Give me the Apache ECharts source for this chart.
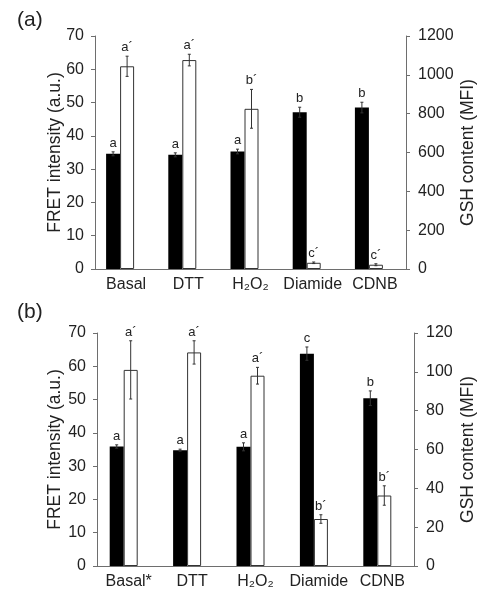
<!DOCTYPE html>
<html><head><meta charset="utf-8">
<script src="https://cdn.jsdelivr.net/npm/echarts@6/dist/echarts.min.js"></script>
<style>html,body{margin:0;padding:0;background:#fff}#c{width:486px;height:599px}</style>
</head><body><div id="c"></div>
<script>
// ---- data ----
var catsA = ['Basal', 'DTT', 'H\u2082O\u2082', 'Diamide', 'CDNB'];
var catsB = ['Basal*', 'DTT', 'H\u2082O\u2082', 'Diamide', 'CDNB'];
var fretA = [34.6, 34.3, 35.3, 47.1, 48.5];
var fretAErr = [0.6, 0.6, 0.7, 1.5, 1.6];
var gshA = [1044, 1076, 825, 32, 22];
var gshAErr = [52, 30, 100, 4, 5];
var lettersFretA = ['a', 'a', 'a', 'b', 'b'];
var lettersGshA = ['a\u00b4', 'a\u00b4', 'b\u00b4', 'c\u00b4', 'c\u00b4'];
var fretB = [35.9, 34.8, 35.8, 63.8, 50.4];
var fretBErr = [0.5, 0.3, 1.2, 2.0, 2.2];
var gshB = [101, 110, 98, 24.2, 36.3];
var gshBErr = [15, 6, 4.3, 2.2, 5];
var lettersFretB = ['a', 'a', 'a', 'c', 'b'];
var lettersGshB = ['a\u00b4', 'a\u00b4', 'a\u00b4', 'b\u00b4', 'b\u00b4'];
var leftTicks = [0, 70, 10];
var rightTicksA = [0, 1200, 200];
var rightTicksB = [0, 120, 20];

// ---- styles ----
var FONT = 'Liberation Sans';
var BW = 14;
var axisCol = '#6e6e6e';
var txtCol = '#222';

function errSeries(name, vals, errs, letters, xi, yi, shift) {
  return {
    type: 'custom', name: name, xAxisIndex: xi, yAxisIndex: yi, clip: false, z: 5,
    data: vals.map(function (v, i) { return [i, v, errs[i]]; }),
    renderItem: function (params, api) {
      var i = api.value(0), v = api.value(1), e = api.value(2);
      var top = api.coord([i, v + e]);
      var bot = api.coord([i, v - e]);
      var x = top[0] + shift;
      var cap = 1.5;
      var ls = { stroke: '#333', lineWidth: 1 };
      return {
        type: 'group', children: [
          { type: 'line', shape: { x1: x, y1: top[1], x2: x, y2: bot[1] }, style: ls },
          { type: 'line', shape: { x1: x - cap, y1: top[1], x2: x + cap, y2: top[1] }, style: ls },
          { type: 'line', shape: { x1: x - cap, y1: bot[1], x2: x + cap, y2: bot[1] }, style: ls },
          { type: 'text', x: x, y: top[1] - 2, style: { text: letters[params.dataIndex], fill: txtCol, font: '13px ' + FONT, textAlign: 'center', textVerticalAlign: 'bottom' } }
        ]
      };
    }
  };
}

function yAxisDef(gi, pos, ticks, name, gap, margin) {
  return {
    type: 'value', gridIndex: gi, position: pos, min: ticks[0], max: ticks[1], interval: ticks[2],
    name: name, nameLocation: 'middle', nameGap: gap, nameRotate: 90, nameMoveOverlap: false,
    nameTextStyle: { fontFamily: FONT, fontSize: 17.5, color: txtCol },
    axisLine: { show: true, lineStyle: { color: axisCol, width: 1 } },
    axisTick: { show: true, inside: false, length: 4, lineStyle: { color: axisCol } },
    axisLabel: { fontFamily: FONT, fontSize: 16, color: txtCol, margin: margin, formatter: function (v) { return String(v); } },
    splitLine: { show: false }
  };
}
function xAxisDef(gi, cats) {
  return {
    type: 'category', gridIndex: gi, data: cats,
    axisLine: { lineStyle: { color: axisCol, width: 1 } },
    axisTick: { show: false },
    axisLabel: { fontFamily: FONT, fontSize: 16, color: txtCol, margin: 8, interval: 0 }
  };
}

var chart = echarts.init(document.getElementById('c'), null, { renderer: 'canvas' });
chart.setOption({
  animation: false,
  backgroundColor: '#fff',
  title: [
    { text: '(a)', left: 12, top: 5, textStyle: { fontFamily: FONT, fontSize: 21, fontWeight: 'normal', color: txtCol } },
    { text: '(b)', left: 12, top: 297, textStyle: { fontFamily: FONT, fontSize: 21, fontWeight: 'normal', color: txtCol } }
  ],
  grid: [
    { left: 95, right: 80, top: 36, bottom: 330, containLabel: false, outerBoundsMode: 'none' },
    { left: 97, right: 72, top: 333, bottom: 33, containLabel: false, outerBoundsMode: 'none' }
  ],
  xAxis: [xAxisDef(0, catsA), xAxisDef(1, catsB)],
  yAxis: [
    yAxisDef(0, 'left', leftTicks, 'FRET intensity (a.u.)', 31, 11),
    yAxisDef(0, 'right', rightTicksA, 'GSH content (MFI)', 53, 12),
    yAxisDef(1, 'left', leftTicks, 'FRET intensity (a.u.)', 33, 11),
    yAxisDef(1, 'right', rightTicksB, 'GSH content (MFI)', 45, 12)
  ],
  series: [
    { type: 'bar', xAxisIndex: 0, yAxisIndex: 0, data: fretA, barWidth: BW, barGap: '0%', itemStyle: { color: '#000' } },
    { type: 'bar', xAxisIndex: 0, yAxisIndex: 1, data: gshA, barWidth: BW, barGap: '0%', itemStyle: { color: '#fff', borderColor: '#333', borderWidth: 1 } },
    { type: 'bar', xAxisIndex: 0, yAxisIndex: 1, data: [], barWidth: 12, barGap: '0%' },
    errSeries('ea1', fretA, fretAErr, lettersFretA, 0, 0, -(BW / 2 + 6)),
    errSeries('ea2', gshA, gshAErr, lettersGshA, 0, 1, BW / 2 - 6),
    { type: 'bar', xAxisIndex: 1, yAxisIndex: 2, data: fretB, barWidth: BW, barGap: '0%', itemStyle: { color: '#000' } },
    { type: 'bar', xAxisIndex: 1, yAxisIndex: 3, data: gshB, barWidth: BW, barGap: '0%', itemStyle: { color: '#fff', borderColor: '#333', borderWidth: 1 } },
    { type: 'bar', xAxisIndex: 1, yAxisIndex: 3, data: [], barWidth: 10, barGap: '0%' },
    errSeries('eb1', fretB, fretBErr, lettersFretB, 1, 2, -(BW / 2 + 5)),
    errSeries('eb2', gshB, gshBErr, lettersGshB, 1, 3, BW / 2 - 5)
  ]
});
</script></body></html>
